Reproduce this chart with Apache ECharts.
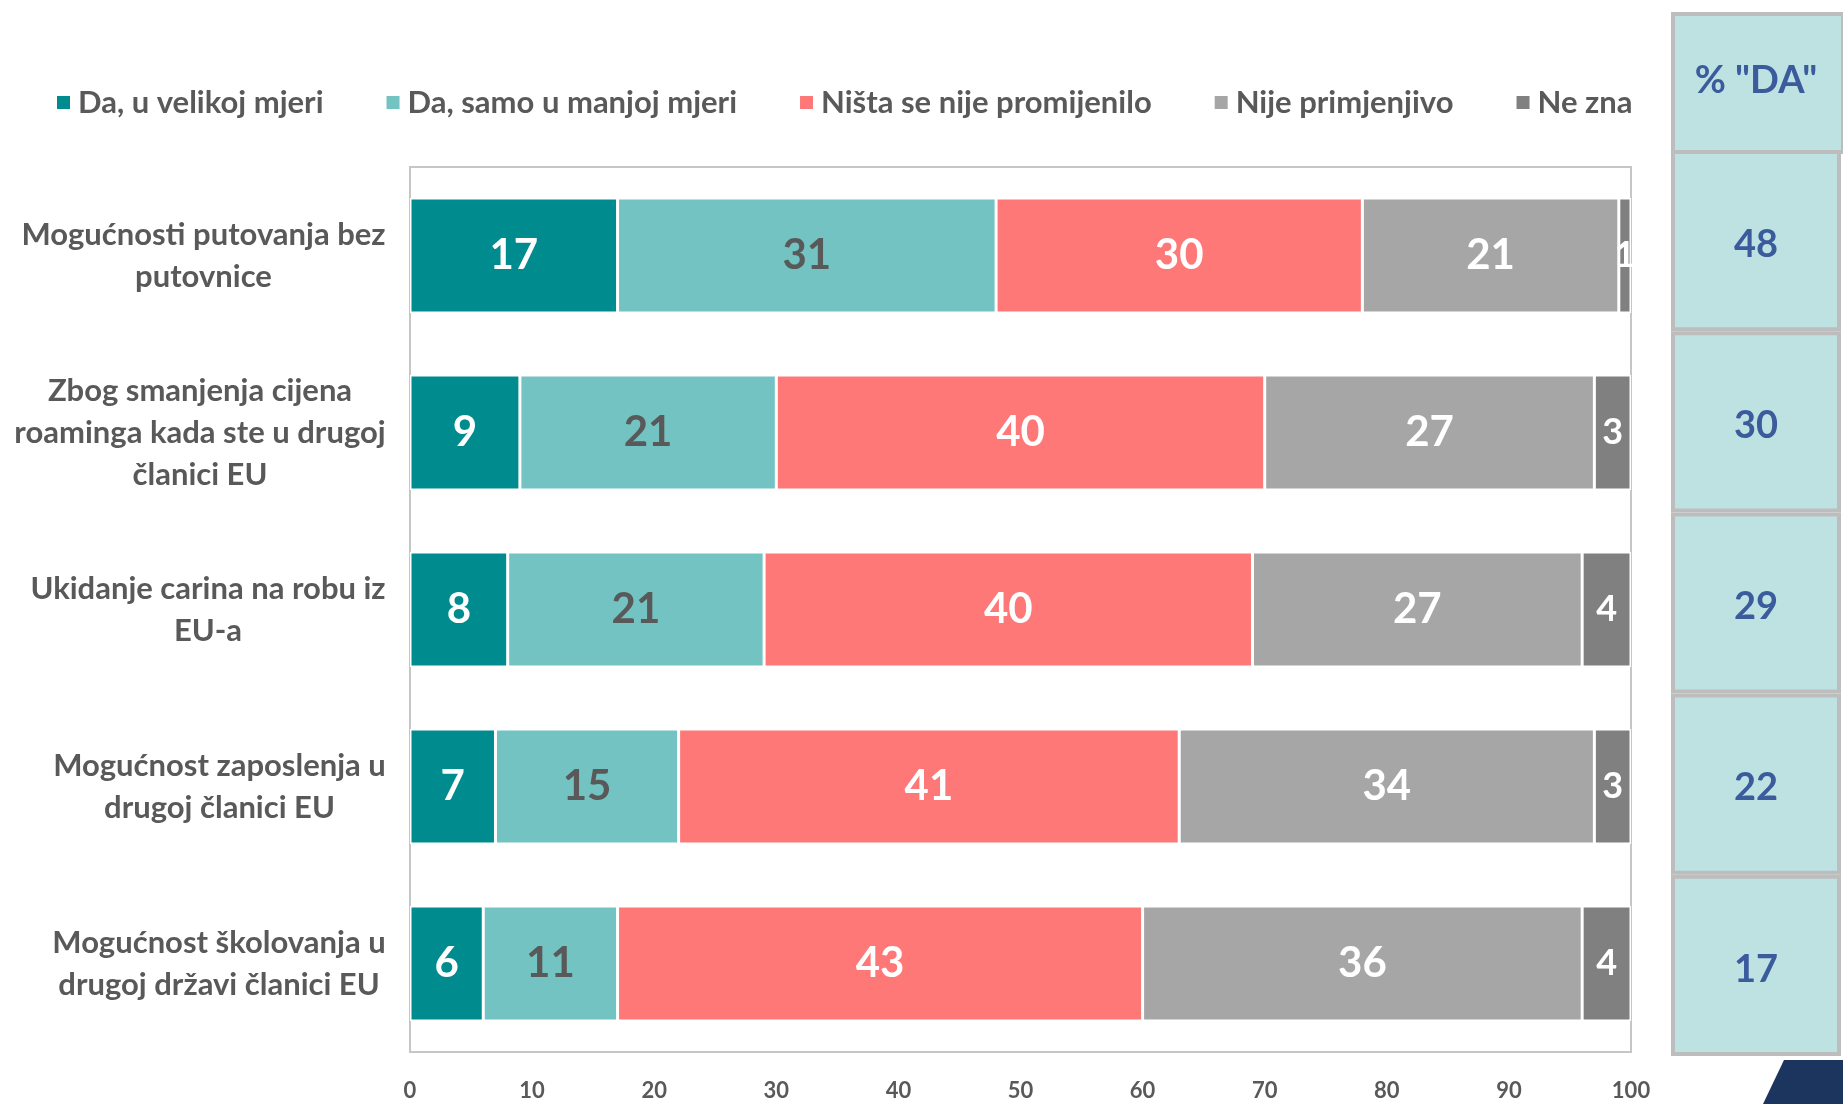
<!doctype html>
<html>
<head>
<meta charset="utf-8">
<title>Da</title>
<script src="https://cdn.jsdelivr.net/npm/echarts@6/dist/echarts.min.js"></script>
<style>
  html, body { margin: 0; padding: 0; background: #fff; }
  #main { width: 1843px; height: 1104px; }
</style>
</head>
<body>
<div id="main"></div>
<script>
var categories = [
    'Mogućnosti putovanja bez\nputovnice',
    'Zbog smanjenja cijena\nroaminga kada ste u drugoj\nčlanici EU',
    'Ukidanje carina na robu iz\nEU-a',
    'Mogućnost zaposlenja u\ndrugoj članici EU',
    'Mogućnost školovanja u\ndrugoj državi članici EU'
];
var seriesNames = ['Da, u velikoj mjeri', 'Da, samo u manjoj mjeri', 'Ništa se nije promijenilo', 'Nije primjenjivo', 'Ne zna'];
var daVelikoj = [17, 9, 8, 7, 6];
var daManjoj = [31, 21, 21, 15, 11];
var nistaPromijenilo = [30, 40, 40, 41, 43];
var nijePrimjenjivo = [21, 27, 27, 34, 36];
var neZna = [1, 3, 4, 3, 4];
var daTotals = [48, 30, 29, 22, 17];
var xTicks = [0, 100, 10];

var colors = ['#008B8F', '#72C3C1', '#FF7878', '#A6A6A6', '#808080'];
var labelColors = ['#fff', '#595959', '#fff', '#fff', '#fff'];
var FONT = 'Lato, "Open Sans", sans-serif';
var grey = '#595959';

// measure the widest line of each category label so lines can be centred in a right aligned block
var ctx = document.createElement('canvas').getContext('2d');
ctx.font = 'bold 31px Lato';
var rich = {};
categories.forEach(function (c, i) {
    var w = 0;
    c.split('\n').forEach(function (l) { w = Math.max(w, ctx.measureText(l).width); });
    rich['c' + i] = { width: Math.ceil(w) + 2, align: 'center', fontSize: 31, fontWeight: 'bold', fontFamily: FONT, color: grey, lineHeight: 42 };
});

var chart = echarts.init(document.getElementById('main'));

var allData = [daVelikoj, daManjoj, nistaPromijenilo, nijePrimjenjivo, neZna];
var series = allData.map(function (d, k) {
    return {
        name: seriesNames[k],
        type: 'bar',
        stack: 'total',
        barWidth: 115,
        xAxisIndex: 0,
        yAxisIndex: 0,
        data: d,
        itemStyle: { color: colors[k], borderColor: '#fff', borderWidth: 1.5 },
        label: {
            show: true,
            position: 'inside',
            fontFamily: FONT,
            fontWeight: 'bold',
            color: labelColors[k],
            fontSize: 42,
            rich: { s: { fontSize: 36, fontWeight: 'bold', fontFamily: FONT, color: labelColors[k] } },
            formatter: function (p) { return p.value < 5 ? '{s|' + p.value + '}' : '' + p.value; }
        }
    };
});

series.push({
    type: 'bar',
    xAxisIndex: 1,
    yAxisIndex: 1,
    barWidth: '100%',
    silent: true,
    data: daTotals.map(function (v) { return { value: 1, total: v }; }),
    itemStyle: { color: '#BEE2E2', borderColor: '#BDBDBD', borderWidth: 4 },
    label: {
        show: true,
        position: 'inside',
        fontFamily: FONT,
        fontWeight: 'bold',
        fontSize: 38,
        color: '#3B5B9D',
        offset: [0, 4],
        formatter: function (p) { return '' + p.data.total; }
    }
});

var option = {
    animation: false,
    backgroundColor: '#fff',
    legend: {
        data: seriesNames,
        left: 55,
        top: 87,
        padding: 0,
        itemWidth: 15,
        itemHeight: 15,
        itemGap: 61,
        icon: 'rect',
        textStyle: { fontFamily: FONT, fontSize: 31, fontWeight: 'bold', color: grey, padding: [0, 0, 0, 2] }
    },
    grid: [
        { left: 410, right: 212, top: 167, bottom: 52, show: true, borderColor: '#C6C6C6', borderWidth: 2 },
        { left: 1671, width: 170, top: 150, bottom: 48 }
    ],
    xAxis: [
        {
            type: 'value', gridIndex: 0, min: xTicks[0], max: xTicks[1], interval: xTicks[2],
            axisLine: { show: false }, axisTick: { show: false }, splitLine: { show: false },
            axisLabel: { fontFamily: FONT, fontWeight: 'bold', fontSize: 22, color: grey, margin: 28 }
        },
        { type: 'value', gridIndex: 1, min: 0, max: 1, show: false }
    ],
    yAxis: [
        {
            type: 'category', gridIndex: 0, inverse: true, data: categories,
            axisLine: { show: false }, axisTick: { show: false },
            axisLabel: {
                margin: 23,
                align: 'right',
                formatter: function (v, i) {
                    return v.split('\n').map(function (l) { return '{c' + i + '|' + l + '}'; }).join('\n');
                },
                rich: rich
            }
        },
        { type: 'category', gridIndex: 1, inverse: true, data: categories, show: false }
    ],
    graphic: [
        {
            type: 'rect', left: 1671, top: 12, shape: { width: 170, height: 138 },
            style: { fill: '#BEE2E2', stroke: '#BDBDBD', lineWidth: 4 }
        },
        {
            type: 'text', x: 1756, y: 81,
            style: { text: '% "DA"', fontFamily: FONT, fontWeight: 'bold', fontSize: 38, fill: '#3B5B9D', textAlign: 'center', textVerticalAlign: 'middle' }
        },
        {
            type: 'polygon',
            shape: { points: [[1763, 1104], [1784, 1060], [1843, 1060], [1843, 1104]] },
            style: { fill: '#1C355E' }
        }
    ],
    series: series
};
chart.setOption(option);
</script>
</body>
</html>
